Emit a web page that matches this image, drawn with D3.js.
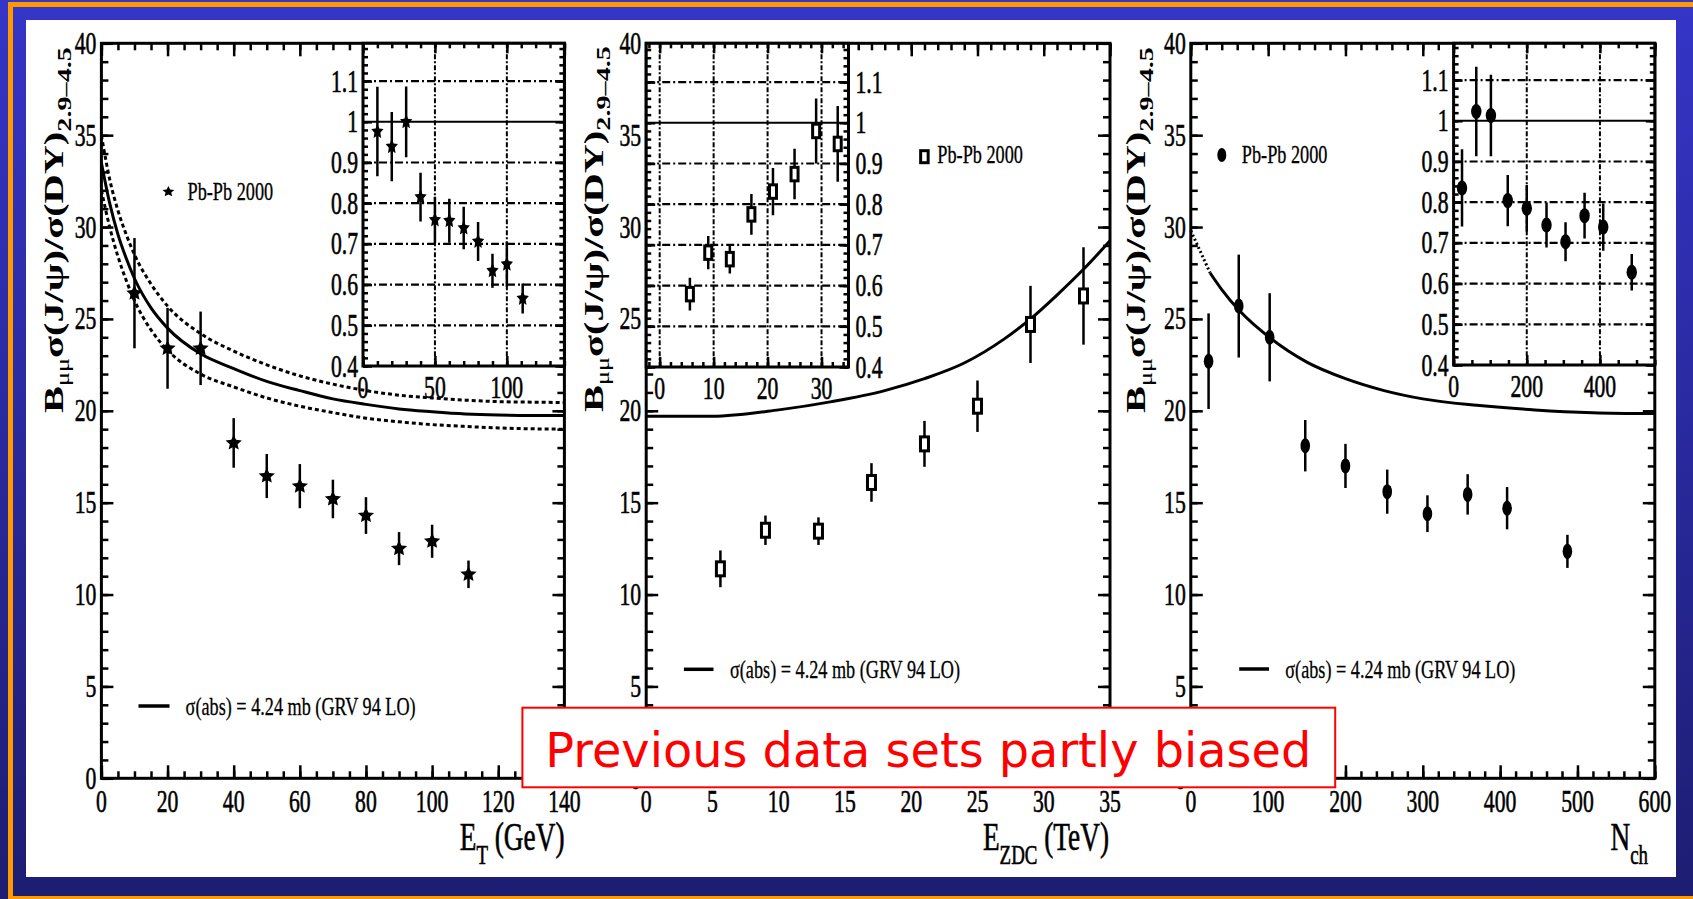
<!DOCTYPE html>
<html>
<head>
<meta charset="utf-8">
<script src="https://cdn.jsdelivr.net/npm/d3@7"></script>
<style>
  html, body { margin: 0; padding: 0; background: #fff; }
  svg { display: block; }
</style>
</head>
<body>
<svg id="chart" width="1693" height="899"></svg>
<script>
// ---------- DATA ----------
const yTicks = [0, 5, 10, 15, 20, 25, 30, 35, 40];
const ratioTicks = [0.4, 0.5, 0.6, 0.7, 0.8, 0.9, 1, 1.1];

// E_T panel (stars)
const etTicks = [0, 20, 40, 60, 80, 100, 120, 140];
const etInsetTicks = [0, 50, 100];
const etX = [10, 20, 30, 40, 50, 60, 70, 80, 90, 100, 111];
const etY = [26.4, 23.4, 23.4, 18.25, 16.45, 15.9, 15.2, 14.3, 12.5, 12.9, 11.1];
const etErr = [3.0, 2.2, 2.0, 1.35, 1.2, 1.2, 1.05, 1.0, 0.9, 0.9, 0.75];
const etRatio = [0.976, 0.939, 1.0, 0.815, 0.759, 0.757, 0.739, 0.706, 0.634, 0.65, 0.566];
const etRatioErr = [0.11, 0.085, 0.087, 0.06, 0.057, 0.054, 0.052, 0.048, 0.042, 0.055, 0.037];
const etCurveX = [0, 2.5, 5, 7.5, 10, 15, 20, 30, 40, 50, 60, 70, 80, 90, 100, 110, 120, 130, 140];
const etCurve = [33.5, 31.3, 29.6, 28.3, 27.2, 25.6, 24.5, 23.1, 22.3, 21.6, 21.1, 20.65, 20.35, 20.1, 19.95, 19.83, 19.77, 19.75, 19.75];
const etCurveHi = [35.0, 32.6, 30.9, 29.6, 28.5, 26.9, 25.7, 24.2, 23.25, 22.5, 21.9, 21.45, 21.1, 20.85, 20.7, 20.58, 20.5, 20.47, 20.45];
const etCurveLo = [32.0, 30.0, 28.4, 27.1, 26.0, 24.4, 23.3, 22.0, 21.3, 20.7, 20.25, 19.9, 19.6, 19.4, 19.25, 19.15, 19.07, 19.02, 19.0];

// E_ZDC panel (open squares)
const ezTicks = [0, 5, 10, 15, 20, 25, 30, 35];
const ezInsetTicks = [0, 10, 20, 30];
const ezX = [5.6, 9, 13, 17, 21, 25, 29, 33];
const ezY = [11.4, 13.5, 13.45, 16.1, 18.2, 20.25, 24.7, 26.25];
const ezErr = [1.0, 0.8, 0.75, 1.05, 1.25, 1.4, 2.1, 2.65];
const ezRatio = [0.579, 0.681, 0.665, 0.775, 0.831, 0.874, 0.98, 0.948];
const ezRatioErr = [0.04, 0.041, 0.035, 0.05, 0.058, 0.062, 0.08, 0.093];
const ezCurveX = [0, 5, 10, 14, 18, 21, 24, 27, 29, 31, 33, 35];
const ezCurve = [19.7, 19.7, 20.05, 20.5, 21.1, 21.75, 22.6, 23.9, 25.0, 26.3, 27.7, 29.25];

// N_ch panel (full circles)
const nchTicks = [0, 100, 200, 300, 400, 500, 600];
const nchInsetTicks = [0, 200, 400];
const nchX = [23, 62, 102, 148, 200, 254, 306, 358, 409, 487];
const nchY = [22.7, 25.7, 24.0, 18.1, 17.0, 15.6, 14.4, 15.45, 14.7, 12.35];
const nchErr = [2.6, 2.8, 2.4, 1.4, 1.2, 1.2, 1.0, 1.1, 1.15, 0.9];
const nchRatio = [0.835, 1.023, 1.013, 0.804, 0.785, 0.744, 0.703, 0.767, 0.739, 0.628];
const nchRatioErr = [0.095, 0.11, 0.10, 0.063, 0.057, 0.055, 0.048, 0.056, 0.058, 0.045];
const nchCurveDotX = [0, 12, 25];
const nchCurveDot = [29.8, 28.7, 27.5];
const nchCurveX = [25, 40, 64, 103, 150, 200, 250, 300, 370, 445, 520, 600];
const nchCurve = [27.5, 26.6, 25.4, 23.95, 22.65, 21.75, 21.1, 20.65, 20.3, 20.05, 19.9, 19.85];

const legendData = "Pb-Pb 2000";
const legendCurve = "\u03c3(abs) = 4.24 mb (GRV 94 LO)";
const note = "Previous data sets partly biased";

// ---------- SETUP ----------
const SX = 0.7;
const SERIF = "'Liberation Serif','Times New Roman',serif";
const TOP = 43.3, BOTTOM = 778.3;
const svg = d3.select("#chart");

const defs = svg.append("defs");
const grad = defs.append("linearGradient").attr("id", "bg").attr("x1", 0).attr("y1", 0).attr("x2", 0).attr("y2", 1);
grad.append("stop").attr("offset", "0%").attr("stop-color", "#3535c8");
grad.append("stop").attr("offset", "100%").attr("stop-color", "#1d1d72");

svg.append("rect").attr("width", 1693).attr("height", 899).attr("fill", "url(#bg)");
svg.append("rect").attr("x", 10.5).attr("y", 4.5).attr("width", 1700).attr("height", 894)
  .attr("fill", "none").attr("stroke", "#ff9900").attr("stroke-width", 5);
svg.append("rect").attr("x", 26).attr("y", 20).attr("width", 1650).attr("height", 857).attr("fill", "#fff");

const y = d3.scaleLinear().domain([0, 40]).range([BOTTOM, TOP]);

// condensed serif text, like the squeezed ROOT picture
function ctext(parent, x, yy, anchor, size, sx) {
  return parent.append("text")
    .attr("transform", `translate(${x},${yy}) scale(${sx || SX},1)`)
    .attr("text-anchor", anchor)
    .attr("font-family", SERIF)
    .attr("font-size", size)
    .attr("fill", "#000")
    .attr("stroke", "#000")
    .attr("stroke-width", 0.6);
}

function starPath(R) {
  const pts = d3.range(10).map(i => {
    const a = -Math.PI / 2 + i * Math.PI / 5;
    const rr = i % 2 ? R * 0.48 : R;
    return [rr * Math.cos(a), rr * Math.sin(a)];
  });
  return "M" + pts.join("L") + "Z";
}

function marker(g, type, cx, cy, k) {
  if (type === "star") {
    g.append("path").attr("d", starPath(9))
      .attr("transform", `translate(${cx},${cy}) scale(${k.sx},${k.sy})`).attr("fill", "#000");
  } else if (type === "square") {
    g.append("rect").attr("x", cx - k.w / 2).attr("y", cy - k.h / 2)
      .attr("width", k.w).attr("height", k.h)
      .attr("fill", "#fff").attr("stroke", "#000").attr("stroke-width", 3);
  } else {
    g.append("ellipse").attr("cx", cx).attr("cy", cy).attr("rx", k.rx).attr("ry", k.ry).attr("fill", "#000");
  }
}

// ticks with d3 axes, labels drawn separately (condensed)
function ticks(g, axisFn, scale, values, size, tf) {
  const a = g.append("g").attr("transform", tf)
    .call(axisFn(scale).tickValues(values).tickSize(-size).tickFormat(""));
  a.select(".domain").remove();
  a.selectAll("line").attr("stroke", "#000").attr("stroke-width", 2.5);
}

function minorValues(domain, step) {
  const lo = Math.ceil(domain[0] / step - 1e-9), hi = Math.floor(domain[1] / step + 1e-9);
  return d3.range(lo, hi + 1).map(i => +(i * step).toFixed(6));
}

const markerMain = {
  star: { sx: 0.95, sy: 0.9 },
  square: { w: 8, h: 14 },
  circle: { rx: 4.8, ry: 7.5 }
};
const markerInset = {
  star: { sx: 0.72, sy: 0.9 },
  square: { w: 7, h: 13.5 },
  circle: { rx: 5.2, ry: 7.5 }
};
const markerLegend = {
  star: { sx: 0.7, sy: 0.62 },
  square: { w: 7.5, h: 12 },
  circle: { rx: 4.5, ry: 7 }
};

const panels = [
  {
    id: "et", left: 101.4, right: 564.4, xDomain: [0, 140], xTicks: etTicks, xMinor: 5,
    inset: { left: 363, right: 564.4, bottom: 366, xDomain: [0, 140], xTicks: etInsetTicks, xMinor: 10, labels: "left" },
    xs: etX, ys: etY, err: etErr, ratio: etRatio, ratioErr: etRatioErr, marker: "star",
    curves: [
      { x: etCurveX, y: etCurve, dash: null },
      { x: etCurveX, y: etCurveHi, dash: "4,3" },
      { x: etCurveX, y: etCurveLo, dash: "4,3" }
    ],
    title: { x: 63, y: 413 },
    xTitle: ["E", "T", " (GeV)"], xTitleRight: 564.5,
    legTop: { mx: 168.4, my: 191.7, tx: 187.5, ty: 200 },
    legBot: { x1: 138.5, x2: 169.5, y: 706, tx: 185.6, ty: 715 }
  },
  {
    id: "ez", left: 646.2, right: 1110, xDomain: [0, 35], xTicks: ezTicks, xMinor: 1,
    inset: { left: 646.2, right: 848.5, bottom: 367, xDomain: [-2.5, 35], xTicks: ezInsetTicks, xMinor: 2, labels: "right" },
    xs: ezX, ys: ezY, err: ezErr, ratio: ezRatio, ratioErr: ezRatioErr, marker: "square",
    curves: [{ x: ezCurveX, y: ezCurve, dash: null }],
    title: { x: 602.5, y: 412 },
    xTitle: ["E", "ZDC", " (TeV)"], xTitleRight: 1109,
    legTop: { mx: 924.4, my: 156.7, tx: 937.3, ty: 163.3 },
    legBot: { x1: 683.9, x2: 713.5, y: 669.3, tx: 730, ty: 678.3 }
  },
  {
    id: "nch", left: 1190.8, right: 1654.8, xDomain: [0, 600], xTicks: nchTicks, xMinor: 20,
    inset: { left: 1453.6, right: 1654.8, bottom: 365, xDomain: [0, 550], xTicks: nchInsetTicks, xMinor: 50, labels: "left" },
    xs: nchX, ys: nchY, err: nchErr, ratio: nchRatio, ratioErr: nchRatioErr, marker: "circle",
    curves: [
      { x: nchCurveDotX, y: nchCurveDot, dash: "2,2.5" },
      { x: nchCurveX, y: nchCurve, dash: null }
    ],
    title: { x: 1145.4, y: 413 },
    xTitle: ["N", "ch", ""], xTitleRight: 1648,
    legTop: { mx: 1221.8, my: 155, tx: 1241.8, ty: 163.3 },
    legBot: { x1: 1239.2, x2: 1269, y: 669, tx: 1285.3, ty: 678.3 }
  }
];

panels.forEach(p => {
  const g = svg.append("g").attr("class", "panel-" + p.id);
  const x = d3.scaleLinear().domain(p.xDomain).range([p.left, p.right]);

  // main axes ticks
  const xMin = minorValues(p.xDomain, p.xMinor);
  const yMin = minorValues([0, 40], 1);
  ticks(g, d3.axisBottom, x, xMin, 7, `translate(0,${BOTTOM})`);
  ticks(g, d3.axisBottom, x, p.xTicks, 13, `translate(0,${BOTTOM})`);
  ticks(g, d3.axisTop, x, xMin, 7, `translate(0,${TOP})`);
  ticks(g, d3.axisTop, x, p.xTicks, 13, `translate(0,${TOP})`);
  ticks(g, d3.axisLeft, y, yMin, 7, `translate(${p.left},0)`);
  ticks(g, d3.axisLeft, y, yTicks, 12, `translate(${p.left},0)`);
  ticks(g, d3.axisRight, y, yMin, 7, `translate(${p.right},0)`);
  ticks(g, d3.axisRight, y, yTicks, 12, `translate(${p.right},0)`);

  g.append("rect").attr("x", p.left).attr("y", TOP)
    .attr("width", p.right - p.left).attr("height", BOTTOM - TOP)
    .attr("fill", "none").attr("stroke", "#000").attr("stroke-width", 3);

  // tick labels
  yTicks.forEach(v => ctext(g, p.left - 5, y(v) + 10.5, "end", 31).text(v));
  p.xTicks.forEach(v => ctext(g, x(v), 812, "middle", 31).text(v));

  // y title
  const t = g.append("text")
    .attr("transform", `translate(${p.title.x},${p.title.y}) scale(${SX},1) rotate(-90)`)
    .attr("font-family", SERIF).attr("font-size", 40).attr("font-weight", "bold")
    .attr("textLength", 366).attr("lengthAdjust", "spacingAndGlyphs");
  t.append("tspan").text("B");
  t.append("tspan").attr("dy", 9).attr("font-size", 26).attr("font-weight", "normal").text("\u03bc\u03bc");
  t.append("tspan").attr("dy", -9).text("\u03c3(J/\u03c8)/\u03c3(DY)");
  t.append("tspan").attr("dy", 11).attr("font-size", 28).text("2.9\u20134.5");

  // x title
  const xt = ctext(g, p.xTitleRight, 850, "end", 39);
  xt.append("tspan").text(p.xTitle[0]);
  xt.append("tspan").attr("dy", 14).attr("font-size", 27).text(p.xTitle[1]);
  if (p.xTitle[2]) xt.append("tspan").attr("dy", -14).text(p.xTitle[2]);

  // curves
  p.curves.forEach(c => {
    const line = d3.line().x((d, i) => x(c.x[i])).y(d => y(d)).curve(d3.curveMonotoneX);
    g.append("path").attr("d", line(c.y)).attr("fill", "none").attr("stroke", "#000")
      .attr("stroke-width", 3).attr("stroke-dasharray", c.dash);
  });

  // data
  p.xs.forEach((xv, i) => {
    g.append("line").attr("x1", x(xv)).attr("x2", x(xv))
      .attr("y1", y(p.ys[i] - p.err[i])).attr("y2", y(p.ys[i] + p.err[i]))
      .attr("stroke", "#000").attr("stroke-width", 2.5);
    marker(g, p.marker, x(xv), y(p.ys[i]), markerMain[p.marker]);
  });

  // legends
  marker(g, p.marker, p.legTop.mx, p.legTop.my, markerLegend[p.marker]);
  ctext(g, p.legTop.tx, p.legTop.ty, "start", 25, 0.73).attr("stroke-width", 0.3).text(legendData);
  g.append("line").attr("x1", p.legBot.x1).attr("x2", p.legBot.x2).attr("y1", p.legBot.y).attr("y2", p.legBot.y)
    .attr("stroke", "#000").attr("stroke-width", 3.5);
  ctext(g, p.legBot.tx, p.legBot.ty, "start", 26).attr("stroke-width", 0.3).text(legendCurve);

  // ----- inset -----
  const ins = p.inset;
  const gi = g.append("g").attr("class", "inset");
  const xi = d3.scaleLinear().domain(ins.xDomain).range([ins.left, ins.right]);
  const yi = d3.scaleLinear().domain([0.4, 1.1]).range([ins.bottom, ins.bottom - 7 * 40.7]);
  gi.append("rect").attr("x", ins.left).attr("y", TOP).attr("width", ins.right - ins.left)
    .attr("height", ins.bottom - TOP).attr("fill", "#fff");
  const clipId = "clip-" + p.id;
  defs.append("clipPath").attr("id", clipId).append("rect")
    .attr("x", ins.left).attr("y", TOP).attr("width", ins.right - ins.left).attr("height", ins.bottom - TOP);
  const gc = gi.append("g").attr("clip-path", `url(#${clipId})`);

  // grid
  ratioTicks.filter(v => v !== 1 && v > 0.4).forEach(v => {
    gc.append("line").attr("x1", ins.left).attr("x2", ins.right).attr("y1", yi(v)).attr("y2", yi(v))
      .attr("stroke", "#000").attr("stroke-width", 2.2).attr("stroke-dasharray", "8,3,2,3");
  });
  ins.xTicks.filter(v => xi(v) > ins.left + 2).forEach(v => {
    gc.append("line").attr("x1", xi(v)).attr("x2", xi(v)).attr("y1", TOP).attr("y2", ins.bottom)
      .attr("stroke", "#000").attr("stroke-width", 2).attr("stroke-dasharray", "5,2,2,2");
  });
  gc.append("line").attr("x1", ins.left).attr("x2", ins.right).attr("y1", yi(1)).attr("y2", yi(1))
    .attr("stroke", "#000").attr("stroke-width", 2);

  // inset ticks
  const yiDom = [0.4, yi.invert(TOP)];
  const yiMin = minorValues(yiDom, 0.02);
  const xiMin = minorValues(ins.xDomain, ins.xMinor);
  ticks(gi, d3.axisBottom, xi, xiMin, 5, `translate(0,${ins.bottom})`);
  ticks(gi, d3.axisBottom, xi, ins.xTicks, 10, `translate(0,${ins.bottom})`);
  ticks(gi, d3.axisTop, xi, xiMin, 5, `translate(0,${TOP})`);
  ticks(gi, d3.axisTop, xi, ins.xTicks, 10, `translate(0,${TOP})`);
  ticks(gi, d3.axisLeft, yi, yiMin, 5, `translate(${ins.left},0)`);
  ticks(gi, d3.axisLeft, yi, ratioTicks, 9, `translate(${ins.left},0)`);
  ticks(gi, d3.axisRight, yi, yiMin, 5, `translate(${ins.right},0)`);
  ticks(gi, d3.axisRight, yi, ratioTicks, 9, `translate(${ins.right},0)`);

  gi.append("rect").attr("x", ins.left).attr("y", TOP).attr("width", ins.right - ins.left)
    .attr("height", ins.bottom - TOP).attr("fill", "none").attr("stroke", "#000").attr("stroke-width", 3);

  // inset labels
  ratioTicks.forEach(v => {
    const s = d3.format("~g")(v);
    if (ins.labels === "left") ctext(gi, ins.left - 5, yi(v) + 10.5, "end", 31).text(s);
    else ctext(gi, ins.right + 7, yi(v) + 10.5, "start", 31).text(s);
  });
  ins.xTicks.forEach(v => ctext(gi, xi(v), ins.bottom + 32, "middle", 31).text(v));

  // inset data
  p.xs.forEach((xv, i) => {
    gc.append("line").attr("x1", xi(xv)).attr("x2", xi(xv))
      .attr("y1", yi(p.ratio[i] - p.ratioErr[i])).attr("y2", yi(p.ratio[i] + p.ratioErr[i]))
      .attr("stroke", "#000").attr("stroke-width", 2.5);
    marker(gc, p.marker, xi(xv), yi(p.ratio[i]), markerInset[p.marker]);
  });
});

// ---------- red note box ----------
svg.append("rect").attr("x", 522.4).attr("y", 707.7).attr("width", 812.8).attr("height", 79.6)
  .attr("fill", "#fff").attr("stroke", "#ff0000").attr("stroke-width", 2);
svg.append("text").attr("x", 545.3).attr("y", 766.7)
  .attr("font-family", "'DejaVu Sans',Verdana,sans-serif").attr("font-size", 48)
  .attr("fill", "#ff0000").attr("textLength", 766).attr("lengthAdjust", "spacingAndGlyphs")
  .text(note);
</script>
</body>
</html>
